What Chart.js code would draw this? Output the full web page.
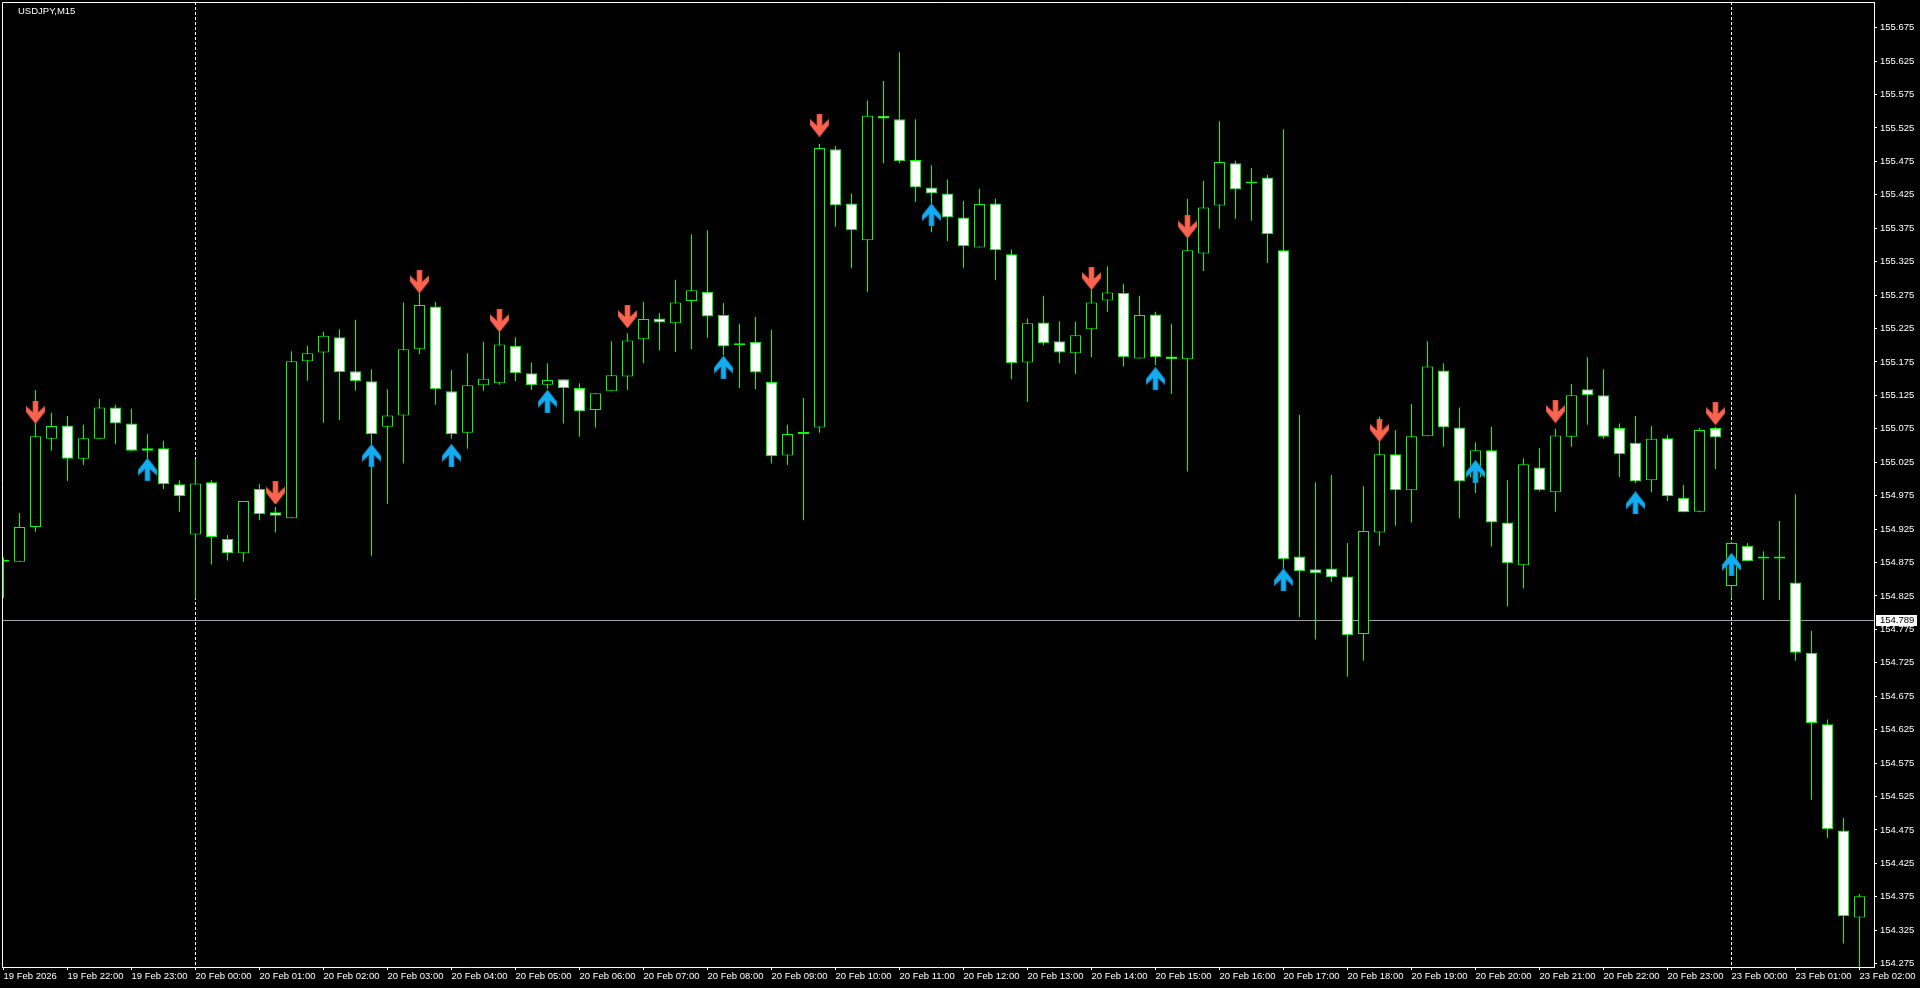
<!DOCTYPE html>
<html>
<head>
<meta charset="utf-8">
<title>USDJPY,M15</title>
<script src="https://cdn.jsdelivr.net/npm/chart.js@4.4.1/dist/chart.umd.min.js"></script>
<style>
    html, body { margin: 0; padding: 0; background: #000; overflow: hidden; }
    canvas { display: block; }
</style>
</head>
<body>
<canvas id="chart" width="1920" height="988"></canvas>
<script>
// Chart data (M15 bars, 19 Feb 21:00 .. 23 Feb 02:00)
const symbolTitle = 'USDJPY,M15';

const opens = [
    154.876, 154.876, 154.928, 155.060, 155.080, 155.030, 155.060, 155.107, 155.083, 155.046,
    155.046, 154.992, 154.917, 154.995, 154.910, 154.889, 154.985, 154.950, 154.941, 155.176,
    155.189, 155.212, 155.161, 155.146, 155.078, 155.095, 155.194, 155.258, 155.131, 155.069,
    155.140, 155.143, 155.199, 155.158, 155.141, 155.149, 155.136, 155.103, 155.131, 155.153,
    155.209, 155.240, 155.233, 155.266, 155.280, 155.245, 155.203, 155.205, 155.145, 155.035,
    155.067, 155.077, 155.493, 155.412, 155.357, 155.543, 155.538, 155.477, 155.436, 155.427,
    155.391, 155.346, 155.412, 155.336, 155.174, 155.234, 155.206, 155.188, 155.224, 155.267,
    155.278, 155.180, 155.246, 155.183, 155.179, 155.337, 155.409, 155.472, 155.442, 155.451,
    155.342, 154.884, 154.865, 154.866, 154.854, 154.768, 154.920, 155.037, 154.983, 155.064,
    155.162, 155.077, 155.002, 155.043, 154.935, 154.871, 155.017, 154.980, 155.063, 155.134,
    155.125, 155.076, 155.054, 154.998, 155.061, 154.972, 154.951, 155.076, 154.840, 154.900,
    154.881, 154.881, 154.845, 154.740, 154.633, 154.474, 154.344
];
const highs = [
    154.883, 154.949, 155.133, 155.099, 155.094, 155.081, 155.120, 155.111, 155.105, 155.067,
    155.057, 154.998, 155.029, 154.998, 154.916, 154.967, 154.992, 154.958, 155.191, 155.199,
    155.220, 155.224, 155.238, 155.164, 155.134, 155.264, 155.278, 155.265, 155.163, 155.188,
    155.205, 155.220, 155.212, 155.174, 155.173, 155.149, 155.143, 155.128, 155.206, 155.218,
    155.265, 155.248, 155.298, 155.366, 155.372, 155.263, 155.232, 155.242, 155.223, 155.081,
    155.121, 155.501, 155.498, 155.427, 155.566, 155.595, 155.638, 155.538, 155.469, 155.448,
    155.416, 155.434, 155.419, 155.343, 155.240, 155.274, 155.236, 155.235, 155.283, 155.318,
    155.292, 155.274, 155.250, 155.232, 155.419, 155.446, 155.535, 155.476, 155.465, 155.455,
    155.523, 155.096, 154.995, 155.006, 154.904, 154.989, 155.093, 155.073, 155.112, 155.206,
    155.173, 155.107, 155.055, 155.078, 154.998, 155.031, 155.046, 155.075, 155.142, 155.182,
    155.164, 155.083, 155.094, 155.079, 155.066, 154.991, 155.076, 155.078, 154.906, 154.904,
    154.892, 154.937, 154.977, 154.773, 154.640, 154.493, 154.379
];
const lows = [
    154.822, 154.876, 154.921, 155.042, 154.997, 155.021, 155.060, 155.052, 155.042, 155.026,
    154.985, 154.951, 154.821, 154.872, 154.878, 154.876, 154.938, 154.920, 154.941, 155.147,
    155.084, 155.088, 155.132, 154.885, 154.963, 155.023, 155.187, 155.111, 155.060, 155.045,
    155.132, 155.141, 155.146, 155.133, 155.135, 155.083, 155.063, 155.077, 155.131, 155.133,
    155.173, 155.192, 155.190, 155.194, 155.211, 155.185, 155.136, 155.134, 155.023, 155.021,
    154.938, 155.069, 155.377, 155.315, 155.280, 155.472, 155.472, 155.414, 155.369, 155.356,
    155.316, 155.346, 155.297, 155.149, 155.115, 155.200, 155.173, 155.157, 155.182, 155.250,
    155.168, 155.180, 155.170, 155.127, 155.011, 155.311, 155.374, 155.389, 155.386, 155.323,
    154.860, 154.793, 154.760, 154.846, 154.704, 154.728, 154.900, 154.930, 154.935, 155.064,
    155.048, 154.941, 154.979, 154.899, 154.809, 154.836, 154.981, 154.951, 155.048, 155.081,
    155.060, 155.003, 154.994, 154.980, 154.967, 154.950, 154.950, 155.015, 154.821, 154.877,
    154.819, 154.819, 154.728, 154.520, 154.463, 154.305, 154.265
];
const closes = [
    154.876, 154.928, 155.064, 155.079, 155.030, 155.061, 155.107, 155.083, 155.042, 155.042,
    154.992, 154.974, 154.993, 154.913, 154.889, 154.967, 154.947, 154.945, 155.176, 155.188,
    155.214, 155.160, 155.146, 155.067, 155.095, 155.194, 155.260, 155.134, 155.067, 155.140,
    155.150, 155.201, 155.158, 155.140, 155.148, 155.136, 155.101, 155.128, 155.155, 155.207,
    155.239, 155.234, 155.264, 155.282, 155.243, 155.198, 155.200, 155.159, 155.034, 155.067,
    155.070, 155.495, 155.409, 155.372, 155.543, 155.539, 155.475, 155.436, 155.427, 155.391,
    155.348, 155.411, 155.342, 155.173, 155.233, 155.203, 155.189, 155.215, 155.264, 155.279,
    155.182, 155.245, 155.182, 155.179, 155.342, 155.406, 155.474, 155.433, 155.442, 155.366,
    154.880, 154.862, 154.859, 154.853, 154.766, 154.922, 155.037, 154.983, 155.064, 155.168,
    155.077, 154.996, 155.043, 154.935, 154.874, 155.022, 154.983, 155.065, 155.125, 155.125,
    155.063, 155.037, 154.996, 155.060, 154.974, 154.950, 155.073, 155.062, 154.904, 154.877,
    154.881, 154.881, 154.740, 154.635, 154.476, 154.346, 154.376
];

// Signal arrows: bar index and price level of the arrow
const sellBars = [2, 17, 26, 31, 39, 51, 68, 74, 86, 97, 107];
const sellLevels = [155.100, 154.979, 155.295, 155.237, 155.243, 155.529, 155.300, 155.377, 155.073, 155.101, 155.098];
const buyBars = [9, 23, 28, 34, 45, 58, 72, 80, 92, 102, 108];
const buyLevels = [155.014, 155.035, 155.035, 155.116, 155.167, 155.395, 155.150, 154.849, 155.011, 154.964, 154.872];

// Axis ticks
const xTickBars = [0, 4, 8, 12, 16, 20, 24, 28, 32, 36, 40, 44, 48, 52, 56, 60, 64, 68, 72, 76, 80, 84, 88, 92, 96, 100, 104, 108, 112, 116];
const xTickLabels = [
    '19 Feb 2026', '19 Feb 22:00', '19 Feb 23:00', '20 Feb 00:00', '20 Feb 01:00', '20 Feb 02:00',
    '20 Feb 03:00', '20 Feb 04:00', '20 Feb 05:00', '20 Feb 06:00', '20 Feb 07:00', '20 Feb 08:00',
    '20 Feb 09:00', '20 Feb 10:00', '20 Feb 11:00', '20 Feb 12:00', '20 Feb 13:00', '20 Feb 14:00',
    '20 Feb 15:00', '20 Feb 16:00', '20 Feb 17:00', '20 Feb 18:00', '20 Feb 19:00', '20 Feb 20:00',
    '20 Feb 21:00', '20 Feb 22:00', '20 Feb 23:00', '23 Feb 00:00', '23 Feb 01:00', '23 Feb 02:00'
];
const yTicks = [
    154.275, 154.325, 154.375, 154.425, 154.475, 154.525, 154.575, 154.625, 154.675, 154.725,
    154.775, 154.825, 154.875, 154.925, 154.975, 155.025, 155.075, 155.125, 155.175, 155.225,
    155.275, 155.325, 155.375, 155.425, 155.475, 155.525, 155.575, 155.625, 155.675
];
const bidPrice = 154.789;
const daySeparators = [12, 108];

const GREEN = '#00ff00';
const FONT = { family: '"Liberation Sans", Arial, sans-serif', size: 9.5 };

// Arrow glyphs used as point styles
function makeArrow(color, edge, pointingUp) {
    const c = document.createElement('canvas');
    c.width = 19;
    c.height = 23;
    const g = c.getContext('2d');
    const pts = [[7, 0], [12, 0], [12, 12], [19, 5.5], [19, 11], [9.5, 23], [0, 11], [0, 5.5], [7, 12]];
    g.beginPath();
    pts.forEach(function(p, k) {
        const y = pointingUp ? 23 - p[1] : p[1];
        if (k === 0) g.moveTo(p[0], y); else g.lineTo(p[0], y);
    });
    g.closePath();
    g.fillStyle = color;
    g.fill();
    g.strokeStyle = edge;
    g.lineWidth = 0.8;
    g.stroke();
    return c;
}
const sellArrow = makeArrow('#fa6450', '#c84a3a', false);
const buyArrow = makeArrow('#12acf0', '#1a6a9a', true);

const barIndex = opens.map(function(_, i) { return i; });

// scales should not reserve room for their edge labels
function fixSize(prop, size) {
    return function(s) {
        s[prop] = size;
        s.paddingLeft = 0;
        s.paddingRight = 0;
        s.paddingTop = 0;
        s.paddingBottom = 0;
    };
}

// Extra drawing: frame, separators, bid line, title
const terminalDecor = {
    id: 'terminalDecor',
    beforeDatasetsDraw(chart) {
        const ctx = chart.ctx;
        const area = chart.chartArea;
        const xs = chart.scales.x;
        const ys = chart.scales.y;
        ctx.save();
        ctx.strokeStyle = '#ffffff';
        ctx.lineWidth = 1;
        ctx.setLineDash([3, 2]);
        daySeparators.forEach(function(b) {
            const px = Math.floor(xs.getPixelForValue(b)) + 0.5;
            ctx.beginPath();
            ctx.moveTo(px, area.top);
            ctx.lineTo(px, area.bottom);
            ctx.stroke();
        });
        ctx.setLineDash([]);
        const by = Math.round(ys.getPixelForValue(bidPrice)) + 0.5;
        ctx.strokeStyle = '#a0a4a8';
        ctx.beginPath();
        ctx.moveTo(area.left, by);
        ctx.lineTo(area.right, by);
        ctx.stroke();
        ctx.restore();
    },
    afterDraw(chart) {
        const ctx = chart.ctx;
        const area = chart.chartArea;
        const ys = chart.scales.y;
        ctx.save();
        ctx.strokeStyle = '#ffffff';
        ctx.lineWidth = 1;
        ctx.beginPath();
        ctx.moveTo(area.left + 0.5, area.bottom);
        ctx.lineTo(area.left + 0.5, area.top + 0.5);
        ctx.lineTo(area.right, area.top + 0.5);
        ctx.stroke();

        // bid price label on the axis
        const by = Math.round(ys.getPixelForValue(bidPrice));
        ctx.fillStyle = '#ffffff';
        ctx.fillRect(area.right + 2, by - 5, 41, 11);
        ctx.fillStyle = '#000000';
        ctx.font = FONT.size + 'px ' + FONT.family;
        ctx.textBaseline = 'middle';
        ctx.textAlign = 'left';
        ctx.fillText(bidPrice.toFixed(3), area.right + 6, by + 0.5);

        ctx.fillStyle = '#ffffff';
        ctx.fillText(symbolTitle, 18, 11);
        ctx.restore();
    }
};

new Chart(document.getElementById('chart').getContext('2d'), {
    type: 'bar',
    data: {
        datasets: [{
            label: 'wicks',
            data: barIndex.map(function(i) { return { x: i, y: [lows[i], highs[i]] }; }),
            backgroundColor: GREEN,
            borderWidth: 0,
            barThickness: 1,
            inflateAmount: 0,
            grouped: false,
            order: 3
        }, {
            label: 'bodies',
            data: barIndex.map(function(i) { return { x: i, y: [opens[i], closes[i]] }; }),
            backgroundColor: barIndex.map(function(i) { return closes[i] >= opens[i] ? '#000000' : '#ffffff'; }),
            borderColor: GREEN,
            borderWidth: 1,
            borderSkipped: false,
            barThickness: 11,
            minBarLength: 2,
            inflateAmount: 0,
            grouped: false,
            order: 2
        }, {
            type: 'scatter',
            label: 'sell',
            data: sellBars.map(function(b, k) { return { x: b, y: sellLevels[k] }; }),
            pointStyle: sellArrow,
            order: 1
        }, {
            type: 'scatter',
            label: 'buy',
            data: buyBars.map(function(b, k) { return { x: b, y: buyLevels[k] }; }),
            pointStyle: buyArrow,
            order: 1
        }]
    },
    options: {
        responsive: false,
        animation: false,
        devicePixelRatio: 1,
        events: [],
        layout: { autoPadding: false, padding: { left: 2, top: 2, right: 0, bottom: 0 } },
        plugins: {
            legend: { display: false },
            tooltip: { enabled: false }
        },
        scales: {
            x: {
                type: 'linear',
                position: 'bottom',
                offset: false,
                min: -0.09375,
                max: 116.90625,
                afterFit: fixSize('height', 21),
                afterBuildTicks: function(s) { s.ticks = xTickBars.map(function(v) { return { value: v }; }); },
                ticks: {
                    autoSkip: false,
                    maxRotation: 0,
                    minRotation: 0,
                    align: 'start',
                    padding: 1,
                    color: '#ffffff',
                    font: FONT,
                    callback: function(v, idx) { return xTickLabels[idx]; }
                },
                grid: { offset: false, drawOnChartArea: false, drawTicks: true, tickLength: 3, color: '#ffffff' },
                border: { display: true, color: '#ffffff' }
            },
            y: {
                type: 'linear',
                position: 'right',
                min: 154.270,
                max: 155.7133,
                afterFit: fixSize('width', 46),
                afterBuildTicks: function(s) { s.ticks = yTicks.map(function(v) { return { value: v }; }); },
                ticks: {
                    autoSkip: false,
                    color: '#ffffff',
                    padding: 3,
                    font: FONT,
                    callback: function(v) { return Number(v).toFixed(3); }
                },
                grid: { drawOnChartArea: false, drawTicks: true, tickLength: 3, color: '#ffffff' },
                border: { display: true, color: '#ffffff' }
            }
        }
    },
    plugins: [terminalDecor]
});
</script>
</body>
</html>
